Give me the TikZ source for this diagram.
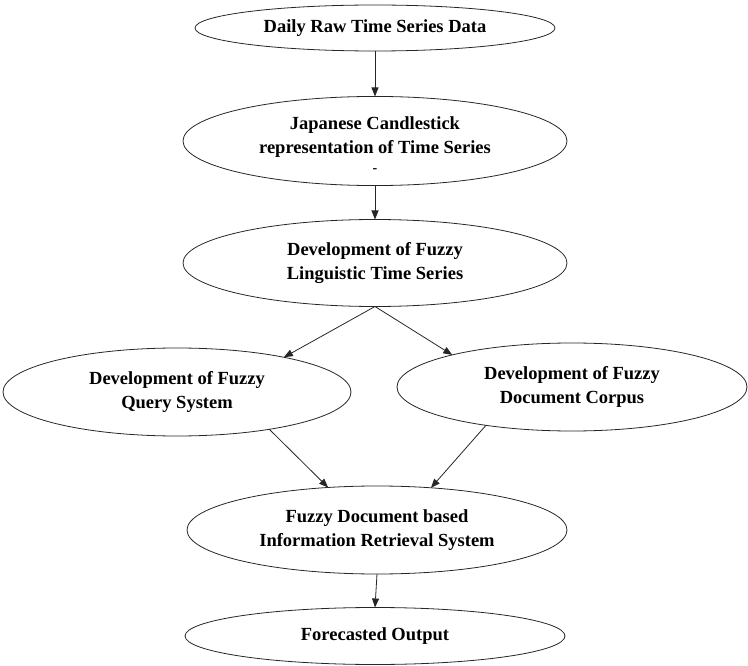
\documentclass[tikz,border=0pt]{standalone}
\usepackage{fontspec}
\setmainfont{Liberation Serif}
\usetikzlibrary{shapes.geometric,arrows.meta}
\begin{document}
\begin{tikzpicture}[x=1pt,y=-1pt,
  box/.style={draw=black!85, line width=0.8pt, ellipse, inner sep=0pt, outer sep=0pt,
    align=center, font=\fontsize{18.5}{24}\selectfont\bfseries},
  arr/.style={draw=black!85, line width=0.8pt, -{Triangle[length=9pt,width=7pt]}}]
\useasboundingbox (0,0) rectangle (748,666);
\node[box, minimum width=360pt, minimum height=46pt] (e1) at (375,28) {Daily Raw Time Series Data};
\node[box, minimum width=384pt, minimum height=86pt] (e2) at (375,141)
  {\rule{0pt}{20pt}Japanese Candlestick\\representation of Time Series\\[-5pt]{\fontsize{14}{14}\selectfont -}};
\node[box, minimum width=384pt, minimum height=87pt] (e3) at (375,263)
  {Development of Fuzzy\\Linguistic Time Series};
\node[box, minimum width=348pt, minimum height=88pt] (e4) at (177,392)
  {Development of Fuzzy\\Query System};
\node[box, minimum width=350pt, minimum height=88pt] (e5) at (572,387)
  {Development of Fuzzy\\Document Corpus};
\node[box, minimum width=380pt, minimum height=88pt] (e6) at (377,530)
  {Fuzzy Document based\\Information Retrieval System};
\node[box, minimum width=380pt, minimum height=57pt] (e7) at (375,636)
  {Forecasted Output};
\draw[arr] (e1.south) -- (e2.north);
\draw[arr] (e2.south) -- (e3.north);
\draw[arr] (e3.south) -- (e4.18);
\draw[arr] (e3.south) -- (e5.165);
\draw[arr] (e4.-22) -- (e6.139);
\draw[arr] (e5.-156) -- (e6.38);
\draw[arr] (e6.south) -- (e7.north);
\end{tikzpicture}
\end{document}
